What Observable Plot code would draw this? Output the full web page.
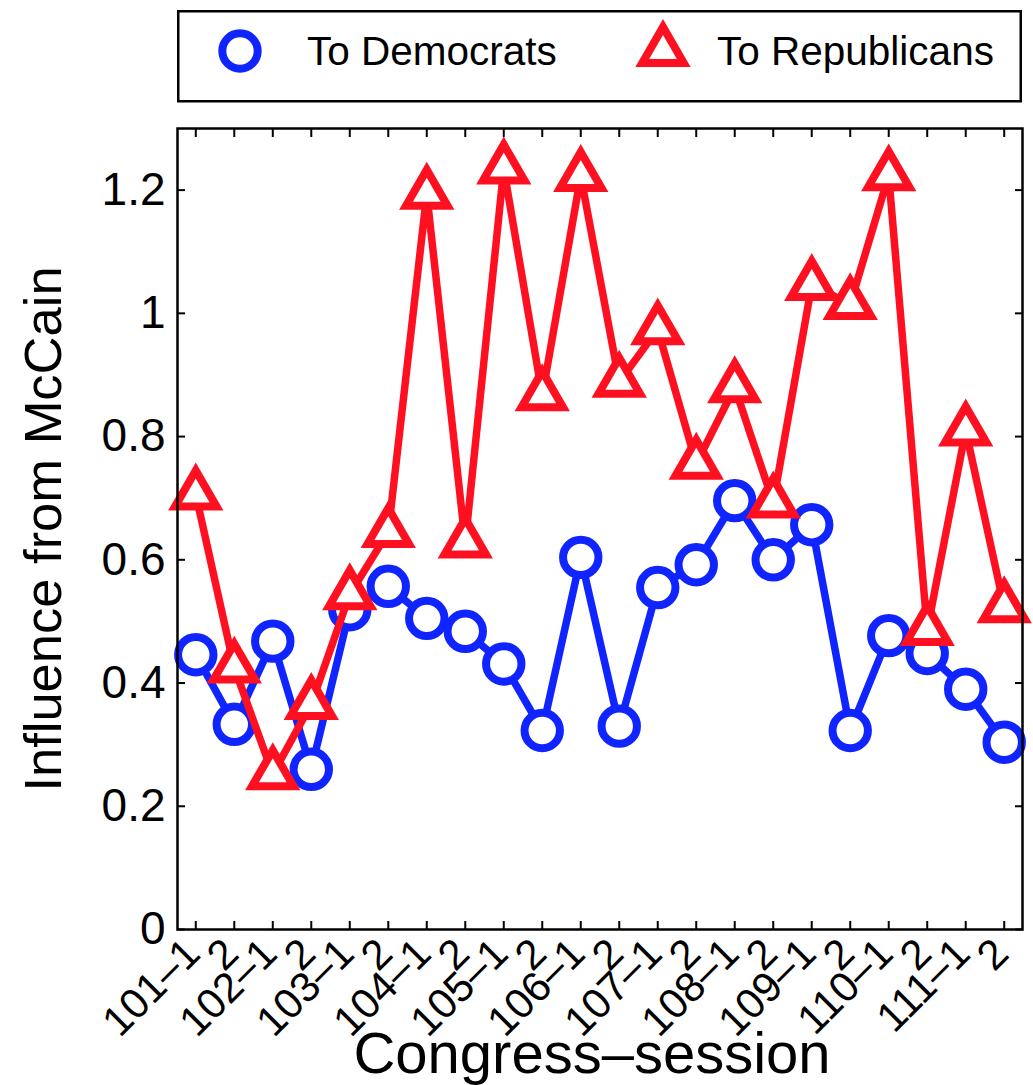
<!DOCTYPE html>
<html>
<head>
<meta charset="utf-8">
<script src="https://cdn.jsdelivr.net/npm/d3@7"></script>
<script src="https://cdn.jsdelivr.net/npm/@observablehq/plot@0.6"></script>
<style>
  body { margin: 0; background: #fff; }
  #wrap { position: relative; width: 1033px; height: 1085px; overflow: hidden; }
  #legend { position: absolute; left: 0; top: 0; }
  #chart { position: absolute; left: 0; top: 110px; }
</style>
</head>
<body>
<div id="wrap"><div id="legend"></div><div id="chart"></div></div>
<script>
// ---- data ----
const sessions = ["101-1","101-2","102-1","102-2","103-1","103-2","104-1","104-2","105-1","105-2","106-1","106-2",
                  "107-1","107-2","108-1","108-2","109-1","109-2","110-1","110-2","111-1","111-2"];
const tickLabels = ["101–1","2","102–1","2","103–1","2","104–1","2","105–1","2","106–1","2",
                    "107–1","2","108–1","2","109–1","2","110–1","2","111–1","2"];
const toDemocrats = [0.446,0.333,0.468,0.260,0.519,0.557,0.505,0.484,0.431,0.323,0.604,0.330,
                     0.555,0.592,0.696,0.600,0.657,0.323,0.477,0.448,0.390,0.304];
const toRepublicans = [0.706,0.425,0.252,0.366,0.544,0.645,1.194,0.628,1.235,0.867,1.223,0.889,
                       0.974,0.756,0.880,0.693,1.046,1.015,1.224,0.486,0.810,0.523];
const yTicks = [0, 0.2, 0.4, 0.6, 0.8, 1, 1.2];
const seriesNames = ["To Democrats", "To Republicans"];
const seriesColors = ["#1024ff", "#ff1020"];
const seriesSymbols = ["circle", "triangle"];
const xTitle = "Congress–session";
const yTitle = "Influence from McCain";

const FONT = '"Liberation Sans", Arial, Helvetica, sans-serif';

const dem = sessions.map((s, i) => ({session: s, value: toDemocrats[i]}));
const rep = sessions.map((s, i) => ({session: s, value: toRepublicans[i]}));
const ticksTable = sessions.map((s, i) => ({session: s, label: tickLabels[i]}));

const symR = {circle: 17.7, triangle: 15.4};

const chart = Plot.plot({
  width: 1033,
  height: 975,
  marginTop: 18,
  marginBottom: 156,
  marginLeft: 177,
  marginRight: 11,
  style: {fontFamily: FONT, background: "white", color: "black", overflow: "visible"},
  x: {type: "point", domain: sessions, padding: 0.475, round: false},
  y: {domain: [0, 1.3]},
  marks: [
    Plot.line(dem, {x: "session", y: "value", stroke: seriesColors[0], strokeWidth: 7.5, strokeLinejoin: "miter"}),
    Plot.dot(dem, {x: "session", y: "value", symbol: seriesSymbols[0], r: symR.circle, stroke: seriesColors[0], strokeWidth: 8, fill: "white"}),
    Plot.line(rep, {x: "session", y: "value", stroke: seriesColors[1], strokeWidth: 7.5, strokeLinejoin: "miter"}),
    Plot.dot(rep, {x: "session", y: "value", symbol: seriesSymbols[1], r: symR.triangle, stroke: seriesColors[1], strokeWidth: 8, fill: "white", strokeLinejoin: "miter"}),
    Plot.frame({stroke: "black", strokeWidth: 2.5}),
    Plot.axisX({anchor: "bottom", ticks: sessions, tickSize: -8, tickFormat: () => "", label: null, strokeWidth: 2}),
    Plot.axisX({anchor: "top", ticks: sessions, tickSize: -8, tickFormat: () => "", label: null, strokeWidth: 2}),
    Plot.text(ticksTable, {x: "session", text: "label", frameAnchor: "bottom", rotate: -45,
                           textAnchor: "end", lineAnchor: "middle", dx: -3, dy: 17, fontSize: 42}),
    Plot.axisY({anchor: "left", ticks: yTicks, tickSize: -8, tickFormat: () => "", label: null, strokeWidth: 2}),
    Plot.axisY({anchor: "right", ticks: yTicks, tickSize: -8, tickFormat: () => "", label: null, strokeWidth: 2}),
    Plot.axisY({anchor: "left", ticks: yTicks, tickSize: 0, tickPadding: 12, fontSize: 46,
                tickFormat: d => String(+d.toFixed(1)), label: null}),
    Plot.text([yTitle], {text: d => d, frameAnchor: "left", rotate: -90, textAnchor: "middle", lineAnchor: "middle",
                         dx: -133, fontSize: 52.5}),
    Plot.text([xTitle], {text: d => d, frameAnchor: "bottom", textAnchor: "middle", lineAnchor: "middle",
                         dy: 125, dx: -8, fontSize: 58})
  ]
});
document.getElementById("chart").appendChild(chart);

// ---- legend ----
const lg = d3.select("#legend").append("svg")
  .attr("width", 1033).attr("height", 110)
  .style("font-family", FONT);
lg.append("rect").attr("x", 178.25).attr("y", 11.25).attr("width", 842.5).attr("height", 90)
  .attr("fill", "white").attr("stroke", "black").attr("stroke-width", 2.5);
const items = [
  {name: seriesNames[0], color: seriesColors[0], symbol: d3.symbolCircle, r: symR.circle, mx: 240, tx: 307},
  {name: seriesNames[1], color: seriesColors[1], symbol: d3.symbolTriangle, r: symR.triangle, mx: 663, tx: 717}
];
for (const it of items) {
  lg.append("path")
    .attr("d", d3.symbol(it.symbol, Math.PI * it.r * it.r)())
    .attr("transform", `translate(${it.mx},51)`)
    .attr("fill", "white").attr("stroke", it.color).attr("stroke-width", 8).attr("stroke-linejoin", "miter");
  lg.append("text").attr("x", it.tx).attr("y", 65).attr("font-size", 40.5).attr("fill", "black").text(it.name);
}
</script>
</body>
</html>
